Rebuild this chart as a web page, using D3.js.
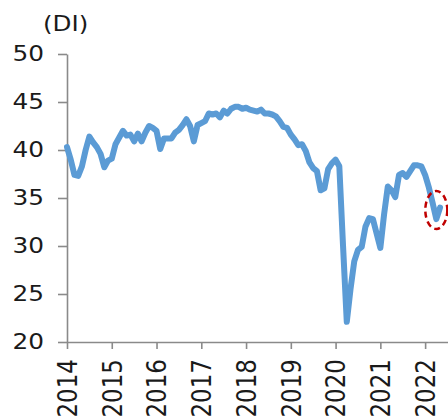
<!DOCTYPE html>
<html>
<head>
<meta charset="utf-8">
<script src="https://cdn.jsdelivr.net/npm/d3@7/dist/d3.min.js"></script>
<style>
  html, body { margin: 0; padding: 0; background: #fff; }
  svg { display: block; }
  text { font-family: "DejaVu Sans", Verdana, sans-serif; fill: #1a1a1a; }
</style>
</head>
<body>
<svg id="chart" width="448" height="418"></svg>
<script>
// Monthly DI, January 2014 onward (index 0 = 2014-01)
const years = [2014, 2015, 2016, 2017, 2018, 2019, 2020, 2021, 2022];
const yTicks = [20, 25, 30, 35, 40, 45, 50];
const unitLabel = "(DI)";
const diValues = [
  // 2014
  40.3, 39.0, 37.4, 37.3, 38.3, 40.0, 41.4, 40.8, 40.3, 39.6, 38.2, 38.9,
  // 2015
  39.1, 40.6, 41.3, 42.0, 41.5, 41.6, 40.9, 41.7, 40.9, 41.8, 42.5, 42.3,
  // 2016
  42.0, 40.1, 41.2, 41.2, 41.2, 41.8, 42.1, 42.6, 43.2, 42.5, 40.9, 42.6,
  // 2017
  42.8, 43.0, 43.8, 43.7, 43.8, 43.4, 44.1, 43.8, 44.3, 44.5, 44.5, 44.3,
  // 2018
  44.4, 44.2, 44.1, 44.0, 44.2, 43.8, 43.8, 43.7, 43.5, 43.0, 42.4, 42.3,
  // 2019
  41.6, 41.1, 40.5, 40.6, 39.9, 38.7, 38.1, 37.8, 35.8, 36.0, 38.0, 38.6,
  // 2020
  39.0, 38.3, 30.0, 22.1, 25.5, 28.4, 29.6, 29.9, 32.0, 32.9, 32.8, 31.3,
  // 2021
  29.8, 33.3, 36.2, 35.8, 35.1, 37.4, 37.6, 37.2, 37.8, 38.4, 38.4, 38.3,
  // 2022
  37.4, 36.1, 34.5, 32.8, 34.0
];
// highlighted month (index) and value for the dashed marker
const highlight = { month: 99, value: 33.75 };

const svg = d3.select("#chart");

const x = d3.scaleLinear().domain([0, 102]).range([67, 447.5]);
const y = d3.scaleLinear().domain([20, 50]).range([342, 54]);

const axisColor = "#8a8a8a";

// y axis
const yAxis = svg.append("g")
  .attr("transform", `translate(${x(0)},0)`)
  .call(d3.axisLeft(y).tickValues(yTicks).tickSize(9).tickPadding(14).tickSizeOuter(0));
yAxis.select(".domain").attr("stroke", axisColor).attr("stroke-width", 1.6);
yAxis.selectAll(".tick line").attr("stroke", axisColor).attr("stroke-width", 1.6);
yAxis.selectAll(".tick text")
  .attr("font-size", 21)
  .attr("fill", "#1a1a1a")
  .attr("x", 0)
  .attr("transform", "translate(-23,0) scale(1.18,1)");

// x axis
const xAxis = svg.append("g")
  .attr("transform", `translate(0,${y(20)})`)
  .call(d3.axisBottom(x).tickValues(years.map((_, i) => i * 12))
    .tickFormat((d, i) => years[i]).tickSize(7).tickSizeOuter(0));
xAxis.select(".domain").attr("stroke", axisColor).attr("stroke-width", 1.6);
xAxis.selectAll(".tick line").attr("stroke", axisColor).attr("stroke-width", 1.6);
xAxis.selectAll(".tick text")
  .attr("font-size", 23)
  .attr("fill", "#1a1a1a")
  .attr("transform", "rotate(-90) scale(1,1.12)")
  .attr("text-anchor", "end")
  .attr("x", -17)
  .attr("y", 0)
  .attr("dy", "0.36em");

// unit label
svg.append("text")
  .attr("transform", "translate(43,31) scale(1.2,1)")
  .attr("font-size", 20.5)
  .text(unitLabel);

// DI line
const line = d3.line()
  .x((d, i) => x(i))
  .y(d => y(d));

svg.append("path")
  .datum(diValues)
  .attr("fill", "none")
  .attr("stroke", "#5b9bd5")
  .attr("stroke-width", 6)
  .attr("stroke-linejoin", "round")
  .attr("stroke-linecap", "round")
  .attr("d", line);

// dashed marker around the latest trough
svg.append("ellipse")
  .attr("cx", x(highlight.month))
  .attr("cy", y(highlight.value))
  .attr("rx", 11)
  .attr("ry", 19)
  .attr("fill", "none")
  .attr("stroke", "#c00000")
  .attr("stroke-width", 2.5)
  .attr("stroke-dasharray", "6,4");
</script>
</body>
</html>
